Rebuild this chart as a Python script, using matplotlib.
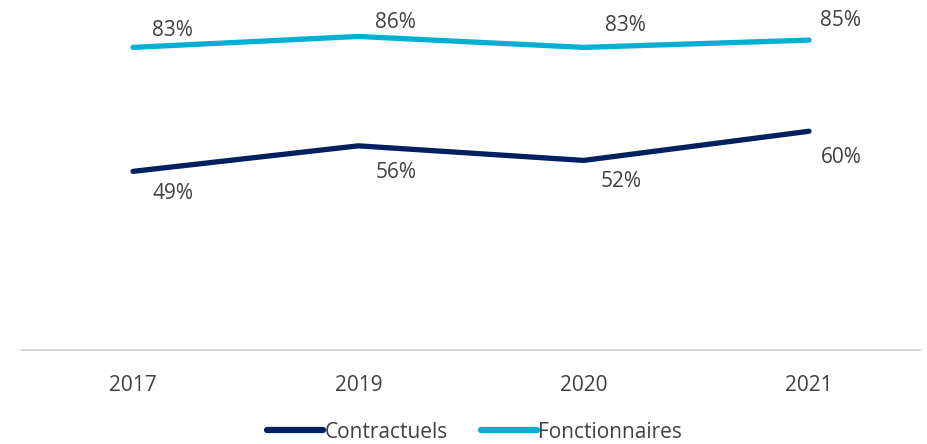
import matplotlib.pyplot as plt

# data
years = ['2017', '2019', '2020', '2021']
contractuels = [49, 56, 52, 60]
fonctionnaires = [83, 86, 83, 85]

navy = '#002060'
cyan = '#00B0D2'
text_col = '#404040'

plt.rcParams['font.family'] = ['Open Sans', 'DejaVu Sans']

fig = plt.figure(figsize=(9.27, 4.44), dpi=100)
ax = fig.add_axes([0.0237, 0.2117, 0.9688, 0.7883])

x = range(len(years))
ax.plot(x, contractuels, color=navy, lw=3.8, solid_capstyle='round',
        solid_joinstyle='round', label='Contractuels')
ax.plot(x, fonctionnaires, color=cyan, lw=3.8, solid_capstyle='round',
        solid_joinstyle='round', label='Fonctionnaires')

# label offsets in pixels (dx, dy down)
off_top = [(39, -17), (37, -14), (42, -22), (32, -20)]
off_bot = [(40, 22), (38, 27), (37, 21), (32, 26)]
for i, v in enumerate(fonctionnaires):
    dx, dy = off_top[i]
    ax.annotate(f'{v}%', (i, v), xytext=(dx * 0.72, -dy * 0.72),
                textcoords='offset points', ha='center', va='center',
                fontsize=15, color=text_col)
for i, v in enumerate(contractuels):
    dx, dy = off_bot[i]
    ax.annotate(f'{v}%', (i, v), xytext=(dx * 0.72, -dy * 0.72),
                textcoords='offset points', ha='center', va='center',
                fontsize=15, color=text_col)

ax.set_xlim(-0.493, 3.493)
ax.set_ylim(0, 96)
ax.set_xticks(list(x))
ax.set_xticklabels(years, fontsize=15, color=text_col)
ax.tick_params(axis='x', length=0, pad=18)
ax.set_yticks([])
for s in ['top', 'right', 'left']:
    ax.spines[s].set_visible(False)
ax.spines['bottom'].set_color('#D9D9D9')
ax.spines['bottom'].set_linewidth(1.5)

leg = fig.legend(loc='center', bbox_to_anchor=(0.512, 0.027), ncol=2,
                 frameon=False, fontsize=15, handlelength=2.7,
                 handletextpad=0.05, columnspacing=1.6)
for t in leg.get_texts():
    t.set_color(text_col)
for h in leg.get_lines():
    h.set_linewidth(4.5)

fig.savefig('out.png', dpi=100)
